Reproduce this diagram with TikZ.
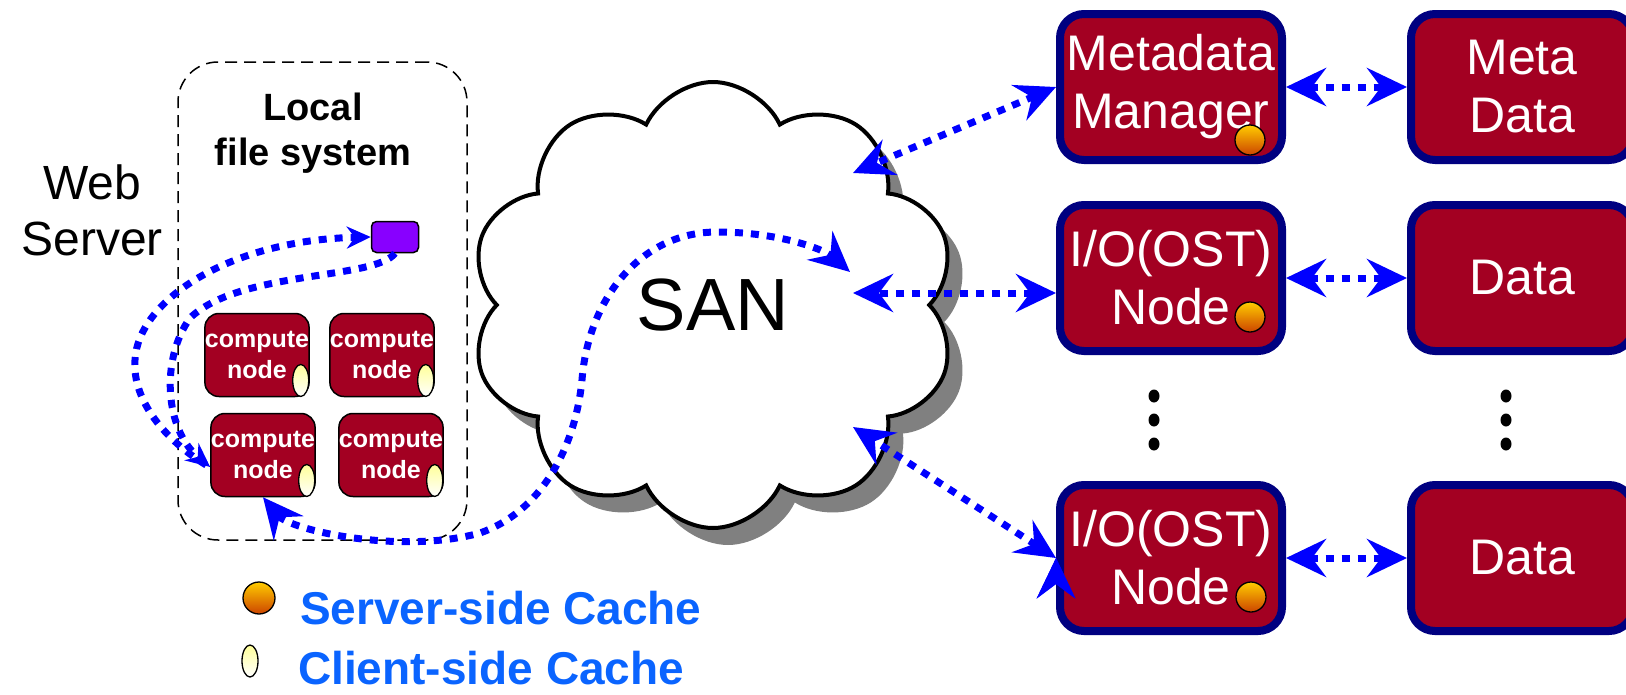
\documentclass[tikz,border=0pt]{standalone}
\usepackage{fontspec}
\setmainfont{Liberation Sans}
\usetikzlibrary{positioning, shapes.symbols, shapes.geometric, shadows, arrows.meta}

\definecolor{boxred}{HTML}{A30022}
\definecolor{boxnavy}{HTML}{000080}
\definecolor{linkblue}{HTML}{0000FF}
\definecolor{legendblue}{HTML}{0A64FF}
\definecolor{diskviolet}{HTML}{8800FF}
\definecolor{sctop}{HTML}{FFCC00}
\definecolor{scbot}{HTML}{CC4400}
\definecolor{cctop}{HTML}{FFFF99}

\tikzset{
  server/.style={rectangle, rounded corners=24pt, draw=boxnavy, line width=8pt, fill=boxred,
    text=white, align=center, minimum width=222pt, minimum height=146pt, inner sep=0pt,
    font=\fontsize{50}{58}\selectfont},
  compute/.style={rectangle, rounded corners=14pt, draw=black, line width=1.5pt, fill=boxred,
    text=white, align=center, minimum width=104pt, minimum height=83pt, inner sep=0pt,
    font=\bfseries\fontsize{25}{31}\selectfont},
  ccache/.style={ellipse, draw=black, line width=1.3pt, top color=cctop, bottom color=white,
    minimum width=16pt, minimum height=32pt, inner sep=0pt},
  scache/.style={circle, draw=black, line width=1.3pt, top color=sctop, bottom color=scbot,
    minimum size=30pt, inner sep=0pt},
  link/.style={draw=linkblue, color=linkblue, line width=7pt, dash pattern=on 8pt off 8pt},
  bighead/.style={{Stealth[length=40pt,width=38pt,inset=14pt]}-{Stealth[length=40pt,width=38pt,inset=14pt]}},
  smallhead/.style={-{Stealth[length=24pt,width=22pt,inset=8pt]}},
  legend/.style={text=legendblue, font=\bfseries\fontsize{46}{50}\selectfont, inner sep=0pt},
}

\begin{document}
\begin{tikzpicture}[x=1pt, y=-1pt]
   \useasboundingbox (0,0) rectangle (1626,694);

   % web server side
   \node[font=\fontsize{48}{56}\selectfont, align=center] (web) at (92,210) {Web\\Server};
   \node[draw, dashed, line width=1.5pt, dash pattern=on 12pt off 7pt, rounded corners=40pt,
         minimum width=289pt, minimum height=478pt] (lfs) at (322.5,301) {};
   \node[font=\bfseries\fontsize{38}{45}\selectfont, align=center] (lfstext) at (313,133) {Local\\file system};
   \node[draw, fill=diskviolet, line width=1.5pt, rounded corners=5pt,
         minimum width=47pt, minimum height=31pt] (store) at (395,237) {};

   \node[compute] (cn1) at (257,355) {compute\\node};
   \node[compute] (cn2) [right=125pt of cn1.center, anchor=center] {compute\\node};
   \node[compute] (cn3) at (263,455) {compute\\node};
   \node[compute] (cn4) [right=128pt of cn3.center, anchor=center] {compute\\node};
   \foreach \c in {cn1,cn2,cn3,cn4}
      \node[ccache, anchor=south east] at ([shift={(-3,-5)}]\c.south east) {};

   % storage area network
   \node[cloud, cloud puffs=10, cloud puff arc=130, cloud ignores aspect, draw, fill=white,
         line width=4pt, minimum width=486pt, minimum height=446pt,
         drop shadow={shadow xshift=15pt, shadow yshift=-17pt, fill=gray, opacity=1},
         font=\fontsize{74}{80}\selectfont] (san) at (713,305) {SAN};
   \coordinate (sanmm) at (853,173);
   \coordinate (sanio1) at (853,293);
   \coordinate (sanio2) at (853,427);
   \coordinate (sanin) at (850,272);

   % servers and disks
   \node[server] (mm) at (1171,87) {Metadata\\Manager};
   \node[server] (md) [right=351pt of mm.center, anchor=center] {Meta\\Data};
   \node[server] (io1) at (1171,278) {I/O(OST)\\Node};
   \node[server] (d1) [right=351pt of io1.center, anchor=center] {Data};
   \node[server] (io2) at (1171,558) {I/O(OST)\\Node};
   \node[server] (d2) [right=351pt of io2.center, anchor=center] {Data};
   \node[scache] at ([shift={(79,53)}]mm.center) {};
   \node[scache] at ([shift={(79,39)}]io1.center) {};
   \node[scache] at ([shift={(80,39)}]io2.center) {};
   \foreach \x in {1154,1506}
      \foreach \y in {396,420,444}
         \fill (\x,\y) ellipse (5.5pt and 6.5pt);

   % links
   \path[link, bighead]
   (mm) edge (md)
   (io1) edge (d1)
   (io2) edge (d2)
   (mm.west) edge (sanmm)
   ([yshift=-15pt]io1.west) edge (sanio1)
   (io2.west) edge (sanio2);

   \draw[link, bighead] (cn3.south) .. controls (290,530) and (400,555) .. (480,533)
      .. controls (540,512) and (575,450) .. (582,380)
      .. controls (588,300) and (640,232) .. (717,232)
      .. controls (780,232) and (825,250) .. (sanin);
   \draw[link, smallhead] ([shift={(-4,10)}]cn3.west) .. controls (165,440) and (132,400) .. (135,360)
      .. controls (138,300) and (230,240) .. (store.west);
   \draw[link, smallhead] (store.south) .. controls (375,280) and (240,270) .. (190,318)
      .. controls (160,360) and (165,430) .. ([yshift=-12pt]cn3.west);

   % legend
   \node[scache, minimum size=32pt] (lgs) at (259,598) {};
   \node[legend, anchor=base west] at (300,624) {Server-side Cache};
   \node[ccache] (lgc) at (250,661) {};
   \node[legend, anchor=base west] at (298,684) {Client-side Cache};
\end{tikzpicture}
\end{document}
